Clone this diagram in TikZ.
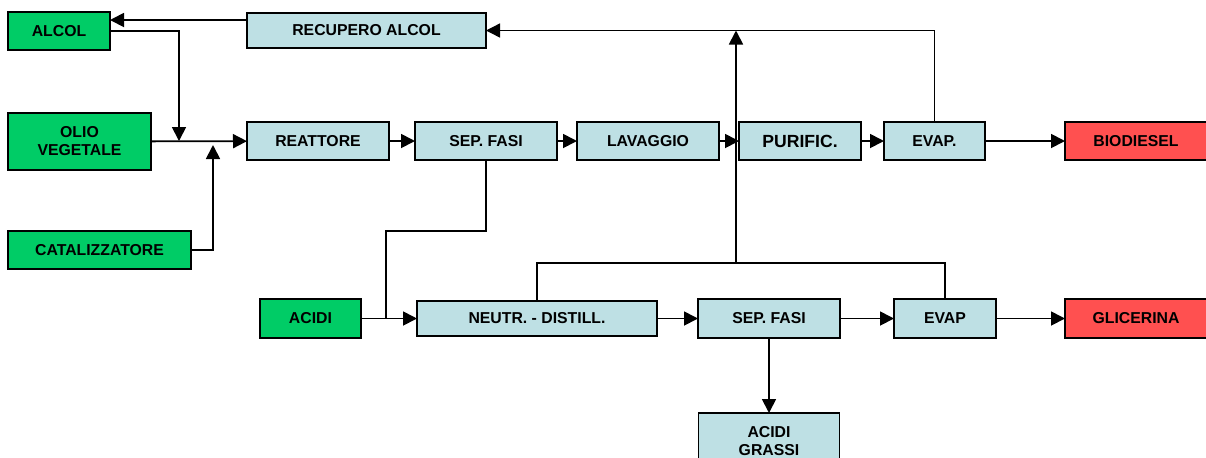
\documentclass[tikz,border=0pt]{standalone}
\usepackage{fontspec}
\setmainfont{Liberation Sans}
\usetikzlibrary{arrows.meta,positioning}
\definecolor{feedgreen}{RGB}{0,204,102}
\definecolor{unitblue}{RGB}{190,224,228}
\definecolor{prodred}{RGB}{255,80,80}

\begin{document}
\begin{tikzpicture}[x=0.5pt, y=-0.5pt, >={Triangle[length=7pt,width=7pt]},
    block/.style={draw, line width=0.75pt, inner sep=0pt, outer sep=0pt, align=center, minimum height=19pt, font=\fontsize{7.9}{9}\selectfont\bfseries},
    feed/.style={block, fill=feedgreen},
    unit/.style={block, fill=unitblue},
    product/.style={block, fill=prodred},
    flow/.style={->, line width=0.9pt},
    link/.style={line width=0.8pt}]
    \useasboundingbox (0,0) rectangle (1206,457);

    \node[feed, minimum width=51pt] (alcol) at (59,31) {ALCOL};
    \node[unit, minimum width=119.5pt, minimum height=17.5pt] (recupero) at (366.5,30.5) {RECUPERO ALCOL};
    \node[feed, minimum width=71.5pt, minimum height=28.5pt] (olio) at (79.5,141.5) {OLIO\\VEGETALE};
    \node[feed, minimum width=91.5pt] (catalizzatore) at (99.5,250) {CATALIZZATORE};

    \node[unit, minimum width=71pt] (reattore) at (318,141) {REATTORE};
    \node[unit, minimum width=71pt] (sepfasi) [right=13pt of reattore] {SEP. FASI};
    \node[unit, minimum width=71pt] (lavaggio) [right=10pt of sepfasi] {LAVAGGIO};
    \node[unit, minimum width=61pt, font=\fontsize{8.8}{10}\selectfont\bfseries] (purific) [right=10pt of lavaggio] {PURIFIC.};
    \node[unit, minimum width=50.5pt] (evap) [right=11.5pt of purific] {EVAP.};
    \node[product, minimum width=71pt] (biodiesel) [right=40pt of evap] {BIODIESEL};

    \node[feed, minimum width=50.5pt, minimum height=19.5pt] (acidi) at (310.5,318.5) {ACIDI};
    \node[unit, minimum width=120pt, minimum height=17.5pt] (neutr) [right=28pt of acidi] {NEUTR. - DISTILL.};
    \node[unit, minimum width=71pt, minimum height=19.5pt] (sepfasib) [right=20.5pt of neutr] {SEP. FASI};
    \node[unit, minimum width=51pt, minimum height=19.5pt] (evapb) [right=27pt of sepfasib] {EVAP};
    \node[product, minimum width=71pt, minimum height=19.5pt] (glicerina) [right=34.5pt of evapb] {GLICERINA};
    \node[unit, minimum width=70.5pt, minimum height=28.5pt] (grassi) [below=37.5pt of sepfasib] {ACIDI\\GRASSI};

    \coordinate (back) at (0,20);
    \coordinate (mixa) at (179,141);
    \coordinate (mixb) at (213,145);
    \coordinate (split) at (386,231);
    \coordinate (rise) at (736,263);

    \draw[flow] (recupero.west |- back) -- (alcol.east |- back);
    \draw[flow] (alcol.east) -| (mixa);
    \draw[flow] (catalizzatore.east) -| (mixb);
    \path[flow]
        (olio) edge (reattore)
        (reattore) edge (sepfasi)
        (sepfasi) edge (lavaggio)
        (lavaggio) edge (purific)
        (purific) edge (evap)
        (evap) edge (biodiesel);
    \draw[flow, line width=0.7pt] (evap.north) |- (recupero.east);

    \draw[link] (sepfasi.south) |- (split) -- (split |- acidi.east);
    \path[flow]
        (acidi) edge (neutr)
        (neutr) edge (sepfasib)
        (sepfasib) edge (evapb)
        (evapb) edge (glicerina)
        (sepfasib) edge (grassi);
    \draw[link] (neutr.north) |- (rise) -| (evapb.north);
    \draw[flow] (rise) -- (rise |- recupero.east);
\end{tikzpicture}
\end{document}
